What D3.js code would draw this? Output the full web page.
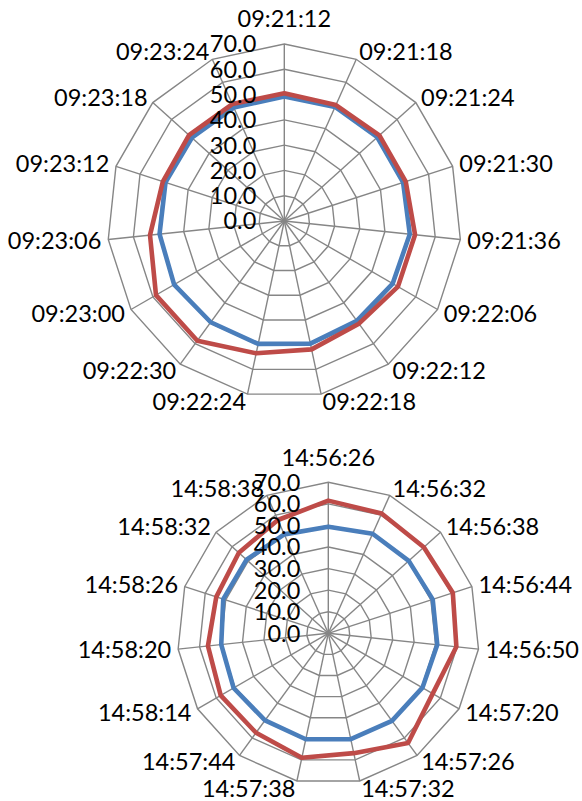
<!DOCTYPE html>
<html>
<head>
<meta charset="utf-8">
<script src="https://cdn.jsdelivr.net/npm/d3@7"></script>
<style>
  html, body { margin: 0; padding: 0; background: #ffffff; }
  svg { display: block; }
  text { font-family: Lato, "Open Sans", sans-serif; fill: #000; }
</style>
</head>
<body>
<svg id="chart" width="582" height="801"></svg>
<script>
// Morning session: timestamps and the two measured series
const categoriesA = ["09:21:12", "09:21:18", "09:21:24", "09:21:30", "09:21:36",
  "09:22:06", "09:22:12", "09:22:18", "09:22:24", "09:22:30",
  "09:23:00", "09:23:06", "09:23:12", "09:23:18", "09:23:24"];
const blueA = [49.2, 49.4, 49.5, 49.4, 49.9, 49.5, 48.8, 49.6, 49.7, 49.5, 50.3, 49.6, 49.4, 49.2, 49.1];
const redA  = [50.5, 50.2, 50.6, 50.5, 52.0, 51.9, 50.2, 51.9, 53.5, 58.5, 58.6, 53.4, 50.5, 50.7, 50.6];

// Afternoon session
const categoriesB = ["14:56:26", "14:56:32", "14:56:38", "14:56:44", "14:56:50",
  "14:57:20", "14:57:26", "14:57:32", "14:57:38", "14:57:44",
  "14:58:14", "14:58:20", "14:58:26", "14:58:32", "14:58:38"];
const blueB = [49.4, 50.5, 50.2, 50.9, 50.8, 50.4, 50.2, 50.2, 50.2, 49.9, 50.7, 49.9, 51.2, 51.0, 50.2];
const redB  = [61.5, 60.8, 59.6, 60.7, 59.7, 55.9, 62.9, 56.8, 59.0, 57.0, 57.6, 56.1, 54.6, 55.8, 57.5];

// Radial axis ticks
const ticks = [0, 10, 20, 30, 40, 50, 60, 70];

const svg = d3.select("#chart");
const FONT = 23.5;
const GRID = "#868686";
const BLUE = "#4A7EBB";
const RED = "#BE4B48";

function radar(cx, cy, radius, categories, seriesList) {
  const g = svg.append("g").attr("transform", `translate(${cx},${cy})`);
  const n = categories.length;
  const angle = d3.scaleLinear().domain([0, n]).range([0, 2 * Math.PI]);
  const r = d3.scaleLinear().domain([0, d3.max(ticks)]).range([0, radius]);
  const pt = (i, v) => [Math.sin(angle(i)) * r(v), -Math.cos(angle(i)) * r(v)];

  // polygonal gridlines
  const ring = d3.lineRadial().angle((d, i) => angle(i)).radius(d => r(d)).curve(d3.curveLinearClosed);
  g.selectAll("path.ring").data(ticks.slice(1)).join("path")
    .attr("class", "ring")
    .attr("d", t => ring(d3.range(n).map(() => t)))
    .attr("fill", "none").attr("stroke", GRID).attr("stroke-width", 1.4);

  // spokes
  g.selectAll("line.spoke").data(d3.range(n)).join("line")
    .attr("class", "spoke")
    .attr("x1", 0).attr("y1", 0)
    .attr("x2", i => pt(i, d3.max(ticks))[0])
    .attr("y2", i => pt(i, d3.max(ticks))[1])
    .attr("stroke", GRID).attr("stroke-width", 1.4);

  // series
  const line = d3.lineRadial().angle((d, i) => angle(i)).radius(d => r(d)).curve(d3.curveLinearClosed);
  seriesList.forEach(s => {
    g.append("path").attr("d", line(s.values))
      .attr("fill", "none").attr("stroke", s.color)
      .attr("stroke-width", 4.6).attr("stroke-linejoin", "round");
  });

  // tick labels along the vertical axis
  g.selectAll("text.tick").data(ticks).join("text")
    .attr("class", "tick")
    .attr("x", -28)
    .attr("y", t => -r(t) + FONT * 0.36)
    .attr("text-anchor", "end")
    .style("font-size", FONT + "px")
    .text(t => d3.format(".1f")(t));

  // category labels
  g.selectAll("text.cat").data(categories).join("text")
    .attr("class", "cat")
    .each(function (c, i) {
      const a = angle(i);
      const [vx, vy] = pt(i, d3.max(ticks));
      const sel = d3.select(this).style("font-size", FONT + "px");
      if (i === 0) {
        sel.attr("x", vx).attr("y", vy - 25 + FONT * 0.36).attr("text-anchor", "middle");
      } else {
        sel.attr("x", vx + 7 * Math.sin(a))
          .attr("y", vy - 8 * Math.cos(a) + FONT * 0.36)
          .attr("text-anchor", Math.sin(a) > 0 ? "start" : "end");
      }
    })
    .text(c => c);
}

radar(284.3, 221, 177, categoriesA, [
  { values: blueA, color: BLUE },
  { values: redA, color: RED }
]);
radar(328.3, 633.3, 151, categoriesB, [
  { values: blueB, color: BLUE },
  { values: redB, color: RED }
]);
</script>
</body>
</html>
